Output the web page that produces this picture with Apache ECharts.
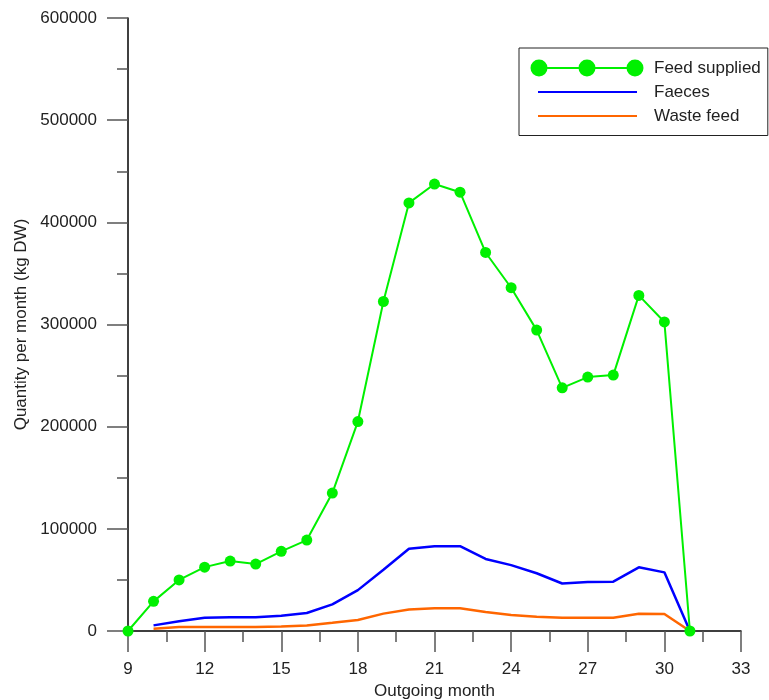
<!DOCTYPE html>
<html>
<head>
<meta charset="utf-8">
<script src="https://cdn.jsdelivr.net/npm/echarts@6/dist/echarts.min.js"></script>
<style>
  html, body { margin: 0; padding: 0; background: #fff; }
  #chart { width: 769px; height: 700px; }
</style>
</head>
<body>
<div id="chart"></div>
<script>
// Monthly quantities (kg dry weight) by outgoing month
const feedMonths = [9, 10, 11, 12, 13, 14, 15, 16, 17, 18, 19, 20, 21, 22, 23, 24, 25, 26, 27, 28, 29, 30, 31];
const feedSupplied = [0, 29000, 50000, 62500, 68500, 65500, 78000, 89000, 135000, 205000, 322500, 419000, 437500, 429500, 370500, 336000, 294500, 238000, 248500, 250500, 328500, 302500, 0];

const outputMonths = [10, 11, 12, 13, 14, 15, 16, 17, 18, 19, 20, 21, 22, 23, 24, 25, 26, 27, 28, 29, 30, 31];
const faeces = [5500, 9500, 13000, 13400, 13400, 15000, 17600, 26000, 40000, 60000, 80500, 83000, 83000, 70500, 64500, 56500, 46500, 48000, 48300, 62300, 57400, 0];
const wasteFeed = [2300, 3900, 3900, 3900, 3900, 4300, 5300, 8000, 10800, 17000, 21000, 22300, 22300, 18600, 15700, 14000, 13000, 13000, 13000, 16800, 16600, 0];

const seriesNames = ['Feed supplied', 'Faeces', 'Waste feed'];

const pairs = (xs, ys) => xs.map((x, i) => [x, ys[i]]);

const FONT = 'Arial, "Liberation Sans", sans-serif';
const TEXT = '#222';
const TICK = '#555';

// Legend glyphs: three dots joined by a line, and a plain line.
// All sub-paths wind the same way so overlaps stay filled.
// Trailing moveTo points widen the glyph box so text sits past it.
const dotsIcon = 'path://M0,8.5A8.5,8.5,0,1,0,17,8.5A8.5,8.5,0,1,0,0,8.5Z' +
  'M48,8.5A8.5,8.5,0,1,0,65,8.5A8.5,8.5,0,1,0,48,8.5Z' +
  'M96,8.5A8.5,8.5,0,1,0,113,8.5A8.5,8.5,0,1,0,96,8.5Z' +
  'M8,7.5L8,9.5L105,9.5L105,7.5Z M118.5,17';
const lineIcon = 'path://M0,0 M7.5,7.5L7.5,9.5L106.5,9.5L106.5,7.5Z M118.5,17';

const chart = echarts.init(document.getElementById('chart'), null, { renderer: 'canvas' });

chart.setOption({
  animation: false,
  backgroundColor: '#fff',
  textStyle: { fontFamily: FONT },
  grid: { left: 128, right: 28, top: 18, bottom: 69, containLabel: false, outerBoundsMode: 'none' },
  legend: {
    orient: 'vertical',
    left: 519,
    top: 48,
    padding: [11.5, 7, 11, 11.5],
    itemGap: 7,
    itemWidth: 118.5,
    itemHeight: 17,
    borderColor: '#222',
    borderWidth: 1,
    selectedMode: false,
    textStyle: { fontSize: 17, color: TEXT, lineHeight: 17, fontFamily: FONT },
    itemStyle: { borderWidth: 0 },
    data: [
      { name: seriesNames[0], icon: dotsIcon, itemStyle: { color: '#00f000' } },
      { name: seriesNames[1], icon: lineIcon, itemStyle: { color: '#0000ff' } },
      { name: seriesNames[2], icon: lineIcon, itemStyle: { color: '#ff6600' } }
    ]
  },
  xAxis: {
    type: 'value',
    min: 9,
    max: 33,
    interval: 3,
    name: 'Outgoing month',
    nameLocation: 'middle',
    nameGap: 49,
    nameTextStyle: { fontSize: 17, color: TEXT },
    axisLine: { show: true, onZero: false, lineStyle: { color: '#000', width: 1.5 } },
    axisTick: { show: true, length: 21, lineStyle: { color: TICK, width: 1.5 } },
    minorTick: { show: true, splitNumber: 2, length: 11, lineStyle: { color: TICK, width: 1.5 } },
    axisLabel: { fontSize: 17, color: TEXT, margin: 30 },
    splitLine: { show: false },
    minorSplitLine: { show: false }
  },
  yAxis: {
    type: 'value',
    min: 0,
    max: 600000,
    interval: 100000,
    name: 'Quantity per month (kg DW)',
    nameLocation: 'middle',
    nameGap: 97,
    nameTextStyle: { fontSize: 17, color: TEXT },
    axisLine: { show: true, lineStyle: { color: '#000', width: 1.5 } },
    axisTick: { show: true, length: 21, lineStyle: { color: TICK, width: 1.5 } },
    minorTick: { show: true, splitNumber: 2, length: 11, lineStyle: { color: TICK, width: 1.5 } },
    axisLabel: { fontSize: 17, color: TEXT, margin: 31, formatter: v => String(v) },
    splitLine: { show: false },
    minorSplitLine: { show: false }
  },
  series: [
    {
      name: seriesNames[0],
      type: 'line',
      data: pairs(feedMonths, feedSupplied),
      symbol: 'circle',
      symbolSize: 11,
      z: 4,
      itemStyle: { color: '#00f000', borderWidth: 0 },
      lineStyle: { color: '#00f000', width: 2 }
    },
    {
      name: seriesNames[1],
      type: 'line',
      data: pairs(outputMonths, faeces),
      symbol: 'none',
      z: 3,
      itemStyle: { color: '#0000ff' },
      lineStyle: { color: '#0000ff', width: 2.5 }
    },
    {
      name: seriesNames[2],
      type: 'line',
      data: pairs(outputMonths, wasteFeed),
      symbol: 'none',
      z: 2,
      itemStyle: { color: '#ff6600' },
      lineStyle: { color: '#ff6600', width: 2.5 }
    }
  ]
});
</script>
</body>
</html>
